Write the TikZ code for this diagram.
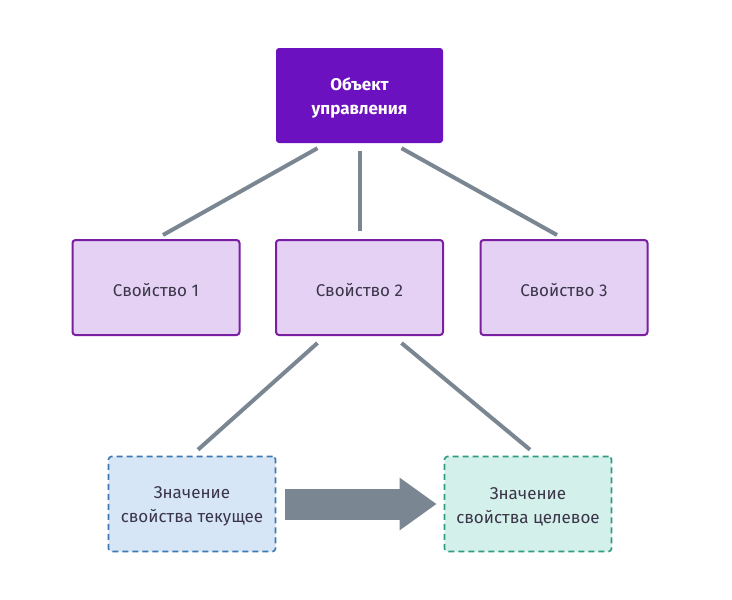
\documentclass[tikz,border=0pt]{standalone}
\usepackage{fontspec}
\setmainfont{Fira Sans}
\usetikzlibrary{calc,arrows.meta}
\definecolor{topfill}{HTML}{6B11BF}
\definecolor{propfill}{HTML}{E4D1F4}
\definecolor{propborder}{HTML}{7B1FA2}
\definecolor{curfill}{HTML}{D6E6F6}
\definecolor{curborder}{HTML}{3C78B4}
\definecolor{tgtfill}{HTML}{D4F0EB}
\definecolor{tgtborder}{HTML}{2E9C7F}
\definecolor{conn}{HTML}{7A8793}
\definecolor{txt}{HTML}{3A3548}
\begin{document}
\begin{tikzpicture}[x=1pt,y=-1pt,
  box/.style={minimum width=167pt,minimum height=95pt,rounded corners=3pt,inner sep=0pt},
  boxtext/.style={align=center,font=\fontsize{17}{24}\selectfont,text=txt,inner sep=0pt,yshift=-2.5pt},
  toptext/.style={boxtext,text=white,font=\fontsize{17}{24}\selectfont\bfseries},
  topbox/.style={box,fill=topfill},
  propbox/.style={box,fill=propfill,draw=propborder,line width=2pt},
  curbox/.style={box,fill=curfill,draw=curborder,line width=1.6pt,dash pattern=on 6pt off 4pt},
  tgtbox/.style={box,fill=tgtfill,draw=tgtborder,line width=1.6pt,dash pattern=on 6pt off 4pt},
  link/.style={draw=conn,line width=4pt},
  bigarrow/.style={draw=conn,line width=31pt,-{Triangle[length=37pt,width=50pt]}}
]
\useasboundingbox[fill=white] (0,0) rectangle (732,600);
\node[topbox,label={[toptext]center:{Объект\\управления}}] (top) at (359.5,95.5) {};
\node[propbox,label={[boxtext]center:{Свойство 1}}] (p1) at (156,287.5) {};
\node[propbox,label={[boxtext]center:{Свойство 2}}] (p2) at (359.5,287.5) {};
\node[propbox,label={[boxtext]center:{Свойство 3}}] (p3) at (564,287.5) {};
\node[curbox,label={[boxtext]center:{Значение\\свойства текущее}}] (cur) at (192,504) {};
\node[tgtbox,label={[boxtext]center:{Значение\\свойства целевое}}] (tgt) at (528,504) {};
\draw[link] ($(top.south)+(-42,5)$) -- ($(p1.north)+(7,-4)$);
\draw[link] ($(top.south)+(0,8)$) -- ($(p2.north)+(0,-8)$);
\draw[link] ($(top.south)+(42,5)$) -- ($(p3.north)+(-7,-4)$);
\draw[link] ($(p2.south)+(-42,7)$) -- ($(cur.north)+(6,-6)$);
\draw[link] ($(p2.south)+(42,7)$) -- ($(tgt.north)+(2,-6)$);
\draw[bigarrow] ($(cur.east)+(9,0)$) -- ($(tgt.west)+(-7,0)$);
\end{tikzpicture}
\end{document}
